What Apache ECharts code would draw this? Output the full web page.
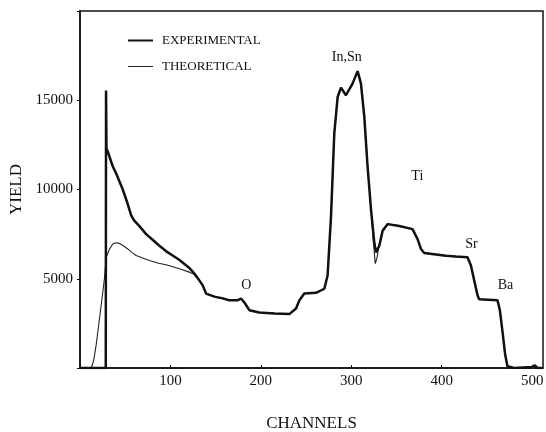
<!DOCTYPE html>
<html>
<head>
<meta charset="utf-8">
<script src="https://cdn.jsdelivr.net/npm/echarts@6/dist/echarts.min.js"></script>
<style>
  html, body { margin: 0; padding: 0; background: #fff; }
  #chart { width: 546px; height: 432px; }
</style>
</head>
<body>
<div id="chart"></div>
<script>
// 实验谱 (channel, yield)
const expChannels = [0, 28.5, 28.8, 29.3, 30.7, 36.2, 40, 47.3, 52, 56.6, 60, 65.7, 73.1, 80, 87.8, 95, 102.5, 110, 115.5, 120, 124.6, 130, 135.7, 139.4, 144, 148.6, 158, 165.2, 174, 178.1, 181.8, 187.3, 198.3, 215, 231.5, 238.9, 242.5, 248, 261, 270.2, 273.8, 277.6, 281.2, 284.9, 288.6, 294.1, 301.4, 307, 310.7, 314.4, 318, 321.8, 325.4, 327.3, 331, 334.6, 340.1, 353, 367.7, 373.3, 377, 380.7, 404.6, 415.7, 428.5, 432.3, 435.9, 439.6, 441.4, 461.7, 464.3, 467.2, 470.2, 472.7, 480, 500, 503, 506, 512];
const expYield = [0, 0, 15550, 12300, 12130, 11300, 10900, 10000, 9300, 8550, 8250, 7950, 7500, 7200, 6850, 6550, 6300, 6050, 5830, 5650, 5400, 5050, 4630, 4170, 4080, 4000, 3900, 3790, 3790, 3890, 3670, 3240, 3110, 3060, 3020, 3330, 3780, 4170, 4210, 4440, 5180, 8520, 13150, 15180, 15710, 15280, 15930, 16630, 15930, 14070, 11290, 8890, 7040, 6480, 6850, 7680, 8060, 7960, 7780, 7220, 6670, 6440, 6290, 6240, 6210, 5740, 4910, 4070, 3850, 3790, 3240, 2040, 740, 100, 0, 60, 150, 0, 0];

// 理论谱
const theoChannels = [0, 12.4, 15, 17.9, 23.4, 27, 29, 32.6, 36.2, 40, 43.6, 48, 52.8, 58, 62.1, 70, 76.8, 87, 95.2, 110, 121, 126, 130, 135.7, 139.4, 148.6, 165.2, 174, 178.1, 181.8, 187.3, 198.3, 215, 231.5, 238.9, 242.5, 248, 261, 270.2, 273.8, 277.6, 281.2, 284.9, 288.6, 294.1, 301.4, 307, 310.7, 314.4, 318, 321.8, 324.5, 326.5, 328.5, 331, 334.6, 340.1, 353, 367.7, 373.3, 377, 380.7, 404.6, 415.7, 428.5, 432.3, 435.9, 439.6, 441.4, 461.7, 464.3, 467.2, 470.2, 472.7, 480, 512];
const theoYield = [0, 0, 400, 1300, 3500, 5000, 6200, 6650, 6950, 7020, 6980, 6850, 6670, 6450, 6300, 6150, 6020, 5870, 5780, 5560, 5370, 5250, 5050, 4630, 4170, 4000, 3790, 3790, 3890, 3670, 3240, 3110, 3060, 3020, 3330, 3780, 4170, 4210, 4440, 5180, 8520, 13150, 15180, 15710, 15280, 15930, 16630, 15930, 14070, 11290, 8890, 7000, 5850, 6200, 6950, 7750, 8080, 7960, 7780, 7220, 6670, 6440, 6290, 6240, 6210, 5740, 4910, 4070, 3850, 3790, 3240, 2040, 740, 100, 0, 0];

// 元素标注
const peakNames = ['O', 'In,Sn', 'Ti', 'Sr', 'Ba'];
const peakChannels = [184, 295, 373, 433, 470.5];
const peakYields = [4650, 17400, 10740, 6950, 4630];

const serif = '"Liberation Serif", "DejaVu Serif", serif';

const chart = echarts.init(document.getElementById('chart'));
chart.setOption({
    animation: false,
    grid: {
        left: 80, right: 3, top: 11, bottom: 64,
        outerBoundsMode: 'none', containLabel: false,
        show: true, borderColor: '#111', borderWidth: 1.5
    },
    legend: {
        data: [
            { name: 'EXPERIMENTAL', icon: 'path://M0 0H50V4H0Z' },
            { name: 'THEORETICAL', icon: 'path://M0 0H50V2H0Z' }
        ],
        orient: 'vertical',
        left: 123, top: 29,
        itemWidth: 25, itemHeight: 14, itemGap: 13,
        textStyle: { fontFamily: serif, fontSize: 13, color: '#111', padding: [0, 0, 0, 4] }
    },
    xAxis: {
        type: 'value', min: 0, max: 512, interval: 100,
        name: 'CHANNELS', nameLocation: 'middle', nameGap: 47,
        nameTextStyle: { fontFamily: serif, fontSize: 17, color: '#111' },
        axisLine: { show: true, lineStyle: { color: '#111', width: 1.5 } },
        axisTick: { show: true, inside: true, length: 3, lineStyle: { color: '#111' } },
        axisLabel: {
            fontFamily: serif, fontSize: 15, color: '#111', margin: 6,
            formatter: v => (v === 0 ? '' : v)
        },
        splitLine: { show: false }
    },
    yAxis: {
        type: 'value', min: 0, max: 20000, interval: 5000,
        name: 'YIELD', nameLocation: 'middle', nameGap: 52,
        nameTextStyle: { fontFamily: serif, fontSize: 17, color: '#111' },
        axisLine: { show: true, lineStyle: { color: '#111', width: 1.5 } },
        axisTick: { show: true, length: 3, lineStyle: { color: '#111' } },
        axisLabel: {
            fontFamily: serif, fontSize: 15, color: '#111', margin: 7,
            formatter: v => (v === 0 || v === 20000 ? '' : v)
        },
        splitLine: { show: false }
    },
    series: [
        {
            name: 'THEORETICAL', type: 'line', symbol: 'none',
            lineStyle: { color: '#222', width: 1.1 },
            itemStyle: { color: '#222' },
            data: theoChannels.map((c, i) => [c, theoYield[i]])
        },
        {
            name: 'EXPERIMENTAL', type: 'line', symbol: 'none',
            lineStyle: { color: '#111', width: 2.5 },
            itemStyle: { color: '#111' },
            data: expChannels.map((c, i) => [c, expYield[i]])
        },
        {
            name: 'labels', type: 'scatter', symbolSize: 1, silent: true,
            itemStyle: { color: '#fff', opacity: 1 },
            label: {
                show: true, position: 'inside',
                fontFamily: serif, fontSize: 14, color: '#111',
                textBorderWidth: 0,
                formatter: p => p.name
            },
            data: peakNames.map((n, i) => ({ name: n, value: [peakChannels[i], peakYields[i]] }))
        }
    ]
});
</script>
</body>
</html>
